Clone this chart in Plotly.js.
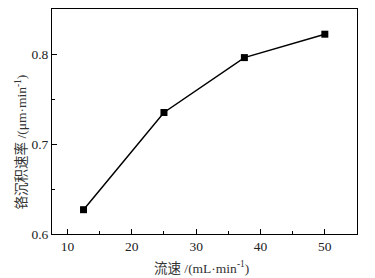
<!DOCTYPE html>
<html><head><meta charset="utf-8">
<script src="https://cdn.plot.ly/plotly-3.0.1.min.js"></script>
<style>body{margin:0;background:#fff}#c{width:375px;height:278px}</style>
</head><body><div id="c"></div>
<script>
var flowRate = [12.5, 25, 37.5, 50];
var depositionRate = [0.627, 0.735, 0.796, 0.822];
var xTitle = '流速 /(mL·min<sup>-1</sup>)';
var yTitle = '铬沉积速率 /(μm·min<sup>-1</sup>)';

var trace = {
  x: flowRate, y: depositionRate, mode: 'lines+markers', type: 'scatter',
  line: {color: '#000', width: 1.5},
  marker: {symbol: 'square', size: 7, color: '#000'}
};
var fontS = "'Liberation Serif', 'Noto Sans CJK SC', serif";
var layout = {
  width: 375, height: 278,
  margin: {l: 52, r: 18, t: 9, b: 44},
  paper_bgcolor: '#fff', plot_bgcolor: '#fff',
  showlegend: false,
  font: {family: fontS, size: 13.5, color: '#222'},
  xaxis: {
    range: [7.6, 55], tickvals: [10, 20, 30, 40, 50], ticks: 'inside', ticklen: 5,
    tickcolor: '#000', linecolor: '#000', linewidth: 1, mirror: true, showgrid: false, zeroline: false,
    minor: {dtick: 5, ticks: 'inside', ticklen: 3, tickcolor: '#000'}
  },
  yaxis: {
    range: [0.6, 0.85], tickvals: [0.6, 0.7, 0.8], ticks: 'inside', ticklen: 5,
    tickcolor: '#000', linecolor: '#000', linewidth: 1, mirror: true, showgrid: false, zeroline: false,
    minor: {dtick: 0.05, ticks: 'inside', ticklen: 3, tickcolor: '#000'}
  },
  annotations: [
    {text: xTitle, xref: 'paper', yref: 'paper', x: 0.49, y: -0.147, xanchor: 'center', yanchor: 'middle',
     showarrow: false, font: {size: 13.5, color: '#333', family: fontS}},
    {text: yTitle, xref: 'paper', yref: 'paper', x: -0.1, y: 0.409, xanchor: 'center', yanchor: 'middle',
     textangle: -90, showarrow: false, font: {size: 13.5, color: '#333', family: fontS}}
  ]
};
Plotly.newPlot('c', [trace], layout, {displayModeBar: false, staticPlot: true});
</script></body></html>
